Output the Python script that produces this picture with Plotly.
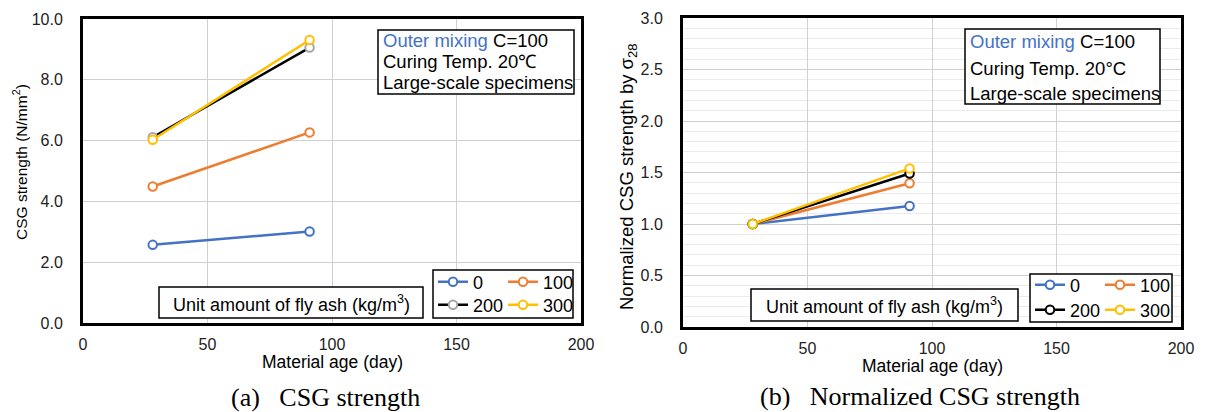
import plotly.graph_objects as go

# ---------------- data ----------------
age = [28, 91]
series_names = ["0", "100", "200", "300"]
strength_0 = [2.57, 3.01]
strength_100 = [4.49, 6.27]
strength_200 = [6.11, 9.06]
strength_300 = [6.03, 9.31]
norm_0 = [1.0, 1.175]
norm_100 = [1.0, 1.395]
norm_200 = [1.0, 1.49]
norm_300 = [1.0, 1.54]
x_ticks = [0, 50, 100, 150, 200]
y_ticks_a = [0, 2, 4, 6, 8, 10]
y_ticks_b = [0, 0.5, 1.0, 1.5, 2.0, 2.5, 3.0]

W, H = 1206, 412
BLUE, ORANGE, GRAY, YELLOW, BLACK = "#4472C4", "#ED7D31", "#A5A5A5", "#FFC000", "#000000"
FONT = "Liberation Sans, Arial, sans-serif"


def px(x):
    return x / W


def py(y):
    return 1 - y / H


fig = go.Figure()

left_series = [
    (strength_0, BLUE, BLUE, "legend"),
    (strength_100, ORANGE, ORANGE, "legend"),
    (strength_200, BLACK, GRAY, "legend2"),
    (strength_300, YELLOW, YELLOW, "legend2"),
]
right_series = [
    (norm_0, BLUE, BLUE, "legend3"),
    (norm_100, ORANGE, ORANGE, "legend3"),
    (norm_200, BLACK, BLACK, "legend4"),
    (norm_300, YELLOW, YELLOW, "legend4"),
]

for name, (vals, lc, mc, lg) in zip(series_names, left_series):
    fig.add_trace(go.Scatter(
        x=age, y=vals, name=name, mode="lines+markers", xaxis="x", yaxis="y",
        line=dict(color=lc, width=2.5),
        marker=dict(symbol="circle", size=8.5, color="white", line=dict(color=mc, width=2)),
        legend=lg,
    ))
for name, (vals, lc, mc, lg) in zip(series_names, right_series):
    fig.add_trace(go.Scatter(
        x=age, y=vals, name=name, mode="lines+markers", xaxis="x2", yaxis="y2",
        line=dict(color=lc, width=2.5),
        marker=dict(symbol="circle", size=8.5, color="white", line=dict(color=mc, width=2)),
        legend=lg,
    ))

axis_common = dict(
    showline=True, linecolor="black", linewidth=3, mirror=True,
    showgrid=True, gridcolor="#D0D0D0", gridwidth=1, zeroline=False,
    ticks="", tickfont=dict(family=FONT, size=16, color="#222"),
    automargin=False,
)

fig.update_layout(
    template="none",
    width=W, height=H, margin=dict(l=0, r=0, t=0, b=0, pad=0),
    paper_bgcolor="white", plot_bgcolor="white",
    xaxis=dict(domain=[px(83), px(581)], range=[0, 200], tickvals=x_ticks,
               anchor="y", ticklabelstandoff=5, **axis_common),
    yaxis=dict(domain=[py(323), py(19)], range=[0, 10], tickvals=y_ticks_a,
               tickformat=".1f", anchor="x", ticklabelstandoff=14, **axis_common),
    xaxis2=dict(domain=[px(683), px(1181)], range=[0, 200], tickvals=x_ticks,
                anchor="y2", ticklabelstandoff=5, **axis_common),
    yaxis2=dict(domain=[py(327), py(18)], range=[0, 3], tickvals=y_ticks_b,
                tickformat=".1f", anchor="x2", ticklabelstandoff=14,
                minor=dict(dtick=0.1, showgrid=True, gridcolor="#EBEBEB", gridwidth=1),
                **axis_common),
)

leg_common = dict(orientation="h", bgcolor="rgba(0,0,0,0)", borderwidth=0,
                  font=dict(family=FONT, size=18, color="black"),
                  entrywidth=25, entrywidthmode="pixels",
                  xanchor="left", yanchor="middle", itemwidth=30, tracegroupgap=0)
fig.update_layout(
    legend=dict(x=px(433), y=py(282), **leg_common),
    legend2=dict(x=px(433), y=py(305), **leg_common),
    legend3=dict(x=px(1030), y=py(285), **leg_common),
    legend4=dict(x=px(1030), y=py(310), **leg_common),
)

shapes = []
annotations = []


def box(x0, y0, x1, y1):
    shapes.append(dict(type="rect", xref="paper", yref="paper",
                       x0=px(x0), x1=px(x1), y0=py(y1), y1=py(y0),
                       line=dict(color="black", width=1.5), fillcolor="white", layer="above"))


def text(x, y, s, size=18.5, xanchor="left", color="black", family=FONT, angle=0):
    annotations.append(dict(xref="paper", yref="paper", x=px(x), y=py(y), text=s,
                            showarrow=False, xanchor=xanchor, yanchor="middle",
                            textangle=angle,
                            font=dict(family=family, size=size, color=color)))


# condition boxes
box(378, 30, 574, 94)
text(381, 41, f"<span style='color:{BLUE}'>Outer mixing</span> C=100")
text(381, 62, "Curing Temp. 20℃")
text(381, 82, "Large-scale specimens")

box(965, 29, 1160, 104)
text(968, 42, f"<span style='color:{BLUE}'>Outer mixing</span> C=100")
text(968, 68, "Curing Temp. 20°C")
text(968, 93, "Large-scale specimens")

# unit boxes
box(159, 287, 423, 318)
text(291, 303, "Unit amount of fly ash (kg/m<sup>3</sup>)", size=18, xanchor="center")
box(751, 289, 1018, 321)
text(884, 305, "Unit amount of fly ash (kg/m<sup>3</sup>)", size=18, xanchor="center")

# legend boxes
box(433, 270, 573, 318)
box(1030, 274, 1172, 322)

# axis titles
text(332, 362, "Material age (day)", size=17.5, xanchor="center")
text(932, 366, "Material age (day)", size=17.5, xanchor="center")
text(20, 162, "CSG strength (N/mm<sup>2</sup>)", size=15.5, xanchor="center", angle=-90)
text(628, 177, "Normalized CSG strength by σ<sub>28</sub>", size=18.5, xanchor="center", angle=-90)

# captions
SERIF = "Liberation Serif, Times New Roman, serif"
text(325, 397, "(a)   CSG strength", size=26, xanchor="center", family=SERIF)
text(920, 396, "(b)   Normalized CSG strength", size=26, xanchor="center", family=SERIF)

fig.update_layout(shapes=shapes, annotations=annotations)

fig.write_html("out.html",
               post_script="document.body.style.margin='0';document.body.style.padding='0';")
